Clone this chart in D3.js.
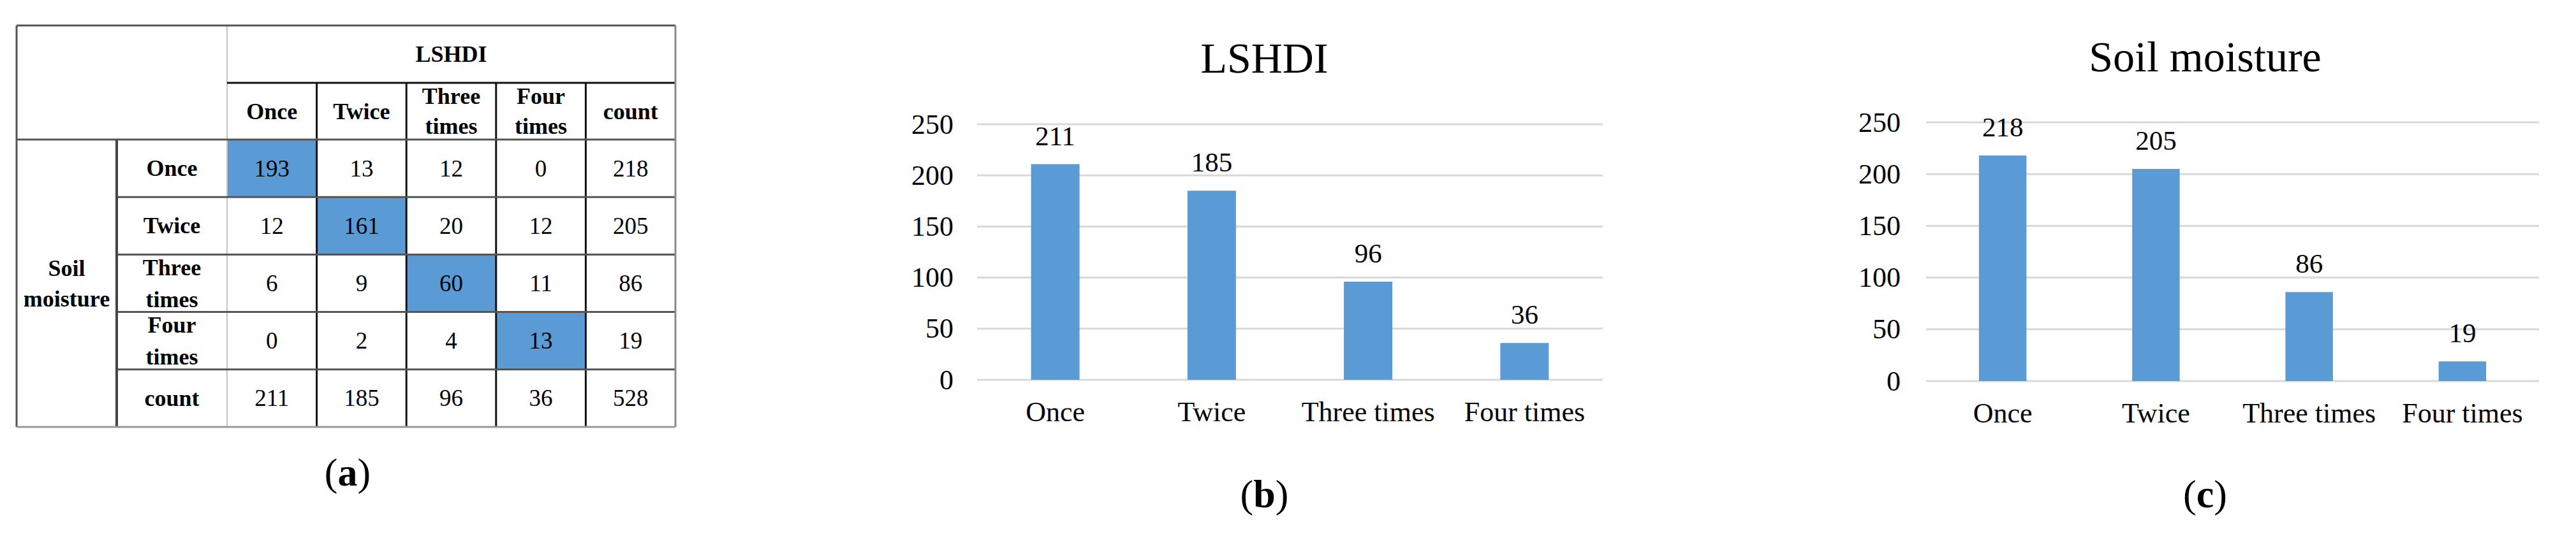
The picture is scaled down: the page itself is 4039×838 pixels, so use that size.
<!DOCTYPE html>
<html>
<head>
<meta charset="utf-8">
<script src="https://cdn.jsdelivr.net/npm/d3@7"></script>
<style>
  html, body { margin: 0; padding: 0; background: #fff; }
  svg { display: block; }
  text { font-family: "Liberation Serif", "Times New Roman", serif; fill: #000; }
</style>
</head>
<body>
<svg id="fig" width="4039" height="838"></svg>
<script>
// categories and values
const levels = ['Once', 'Twice', 'Three times', 'Four times']
const colHeaders = ['Once', 'Twice', 'Three times', 'Four times', 'count']
const rowHeaders = ['Once', 'Twice', 'Three times', 'Four times', 'count']
const crossTab = [
  [193, 13, 12, 0],
  [12, 161, 20, 12],
  [6, 9, 60, 11],
  [0, 2, 4, 13]
]
const rowTotals = [218, 205, 86, 19]
const colTotals = [211, 185, 96, 36]
const grandTotal = 528
const lshdiCounts = [211, 185, 96, 36]
const soilCounts = [218, 205, 86, 19]
const yTicks = [0, 50, 100, 150, 200, 250]

const blue = '#5b9bd5'
const svg = d3.select('#fig')

// ---------- (a) table ----------
const tbl = { left: 26, soilRight: 183, labelRight: 356, right: 1059, top: 40, lshdiBottom: 130, headBottom: 219, bottom: 670 }
const colX = d3.scaleBand().domain(d3.range(5)).range([tbl.labelRight, tbl.right])
const rowY = d3.scaleBand().domain(d3.range(5)).range([tbl.headBottom, tbl.bottom])

// full rows incl. totals
const body = crossTab.map((r, i) => r.concat([rowTotals[i]]))
body.push(colTotals.concat([grandTotal]))

const a = svg.append('g')

// highlighted diagonal
a.selectAll('rect.diag')
  .data(crossTab.map((r, i) => ({ i, v: r[i] })))
  .join('rect')
    .attr('x', d => colX(d.i))
    .attr('y', d => rowY(d.i))
    .attr('width', colX.bandwidth())
    .attr('height', rowY.bandwidth())
    .attr('fill', blue)

// cell numbers
body.forEach((row, i) => {
  a.selectAll(null)
    .data(row)
    .join('text')
      .attr('x', (d, j) => colX(j) + colX.bandwidth() / 2)
      .attr('y', rowY(i) + rowY.bandwidth() / 2)
      .attr('text-anchor', 'middle')
      .attr('dominant-baseline', 'central')
      .attr('font-size', 37)
      .text(d => d)
})

function multiline(sel, label, cx, cy, gap) {
  let words = label.split(' ')
  let t = sel.append('text')
    .attr('text-anchor', 'middle')
    .attr('dominant-baseline', 'central')
    .attr('font-size', 36)
    .attr('font-weight', 'bold')
  words.forEach((w, k) => {
    t.append('tspan')
      .attr('x', cx)
      .attr('y', cy + (k - (words.length - 1) / 2) * gap)
      .text(w)
  })
}

colHeaders.forEach((h, j) => multiline(a, h, colX(j) + colX.bandwidth() / 2, (tbl.lshdiBottom + tbl.headBottom) / 2, 47))
rowHeaders.forEach((h, i) => multiline(a, h, (tbl.soilRight + tbl.labelRight) / 2, rowY(i) + rowY.bandwidth() / 2, 50))
multiline(a, 'LSHDI', (tbl.labelRight + tbl.right) / 2, (tbl.top + tbl.lshdiBottom) / 2, 47)
multiline(a, 'Soil moisture', (tbl.left + tbl.soilRight) / 2, (tbl.headBottom + tbl.bottom) / 2, 48)

// grid lines
const line = (x1, y1, x2, y2, c, w) => a.append('line')
  .attr('x1', x1).attr('y1', y1).attr('x2', x2).attr('y2', y2)
  .attr('stroke', c).attr('stroke-width', w)

line(tbl.labelRight, tbl.top, tbl.labelRight, tbl.bottom, '#c4c4c4', 2)
d3.range(1, 5).forEach(j => line(colX(j), tbl.lshdiBottom, colX(j), tbl.bottom, '#111', 3))
d3.range(1, 5).forEach(i => line(tbl.soilRight, rowY(i), tbl.right, rowY(i), '#555', 3))
line(tbl.labelRight, tbl.lshdiBottom, tbl.right, tbl.lshdiBottom, '#111', 3)
line(tbl.left, tbl.headBottom, tbl.right, tbl.headBottom, '#555', 3)
line(tbl.soilRight, tbl.headBottom, tbl.soilRight, tbl.bottom, '#444', 4)
line(tbl.left, tbl.top, tbl.right, tbl.top, '#555', 3)
line(tbl.left, tbl.top, tbl.left, tbl.bottom, '#555', 3)
line(tbl.right, tbl.top, tbl.right, tbl.bottom, '#888', 3)
line(tbl.left, tbl.bottom, tbl.right, tbl.bottom, '#999', 3)

function panelLabel(letter, cx, baseline) {
  let t = svg.append('text')
    .attr('x', cx).attr('y', baseline)
    .attr('text-anchor', 'middle')
    .attr('font-size', 62)
  t.append('tspan').text('(')
  t.append('tspan').attr('font-weight', 'bold').text(letter)
  t.append('tspan').text(')')
}
panelLabel('a', 545, 762)

// ---------- (b), (c) bar charts ----------
function barChart(values, title, letter, lay) {
  let g = svg.append('g')
  let x = d3.scaleBand().domain(levels).range([lay.x0, lay.x1]).paddingInner(0.69).paddingOuter(0.345)
  let y = d3.scaleLinear().domain([0, 250]).range([lay.y0, lay.y1])

  g.selectAll('line.grid')
    .data(yTicks)
    .join('line')
      .attr('x1', lay.x0).attr('x2', lay.x1)
      .attr('y1', d => y(d)).attr('y2', d => y(d))
      .attr('stroke', '#d9d9d9').attr('stroke-width', 3)

  let yAxis = g.append('g')
    .attr('transform', `translate(${lay.x0},0)`)
    .call(d3.axisLeft(y).tickValues(yTicks).tickSize(0).tickPadding(lay.x0 - lay.yLabelRight))
  yAxis.select('.domain').remove()
  yAxis.selectAll('text').attr('font-size', 44).attr('font-family', '"Liberation Serif", serif')

  let xAxis = g.append('g')
    .attr('transform', `translate(0,${lay.y0})`)
    .call(d3.axisBottom(x).tickSize(0).tickPadding(lay.xLabelPad))
  xAxis.select('.domain').remove()
  xAxis.selectAll('text').attr('font-size', 44).attr('font-family', '"Liberation Serif", serif')

  g.selectAll('rect.bar')
    .data(values)
    .join('rect')
      .attr('x', (d, i) => x(levels[i]))
      .attr('y', d => y(d))
      .attr('width', x.bandwidth())
      .attr('height', d => lay.y0 - y(d))
      .attr('fill', blue)

  g.selectAll('text.val')
    .data(values)
    .join('text')
      .attr('x', (d, i) => x(levels[i]) + x.bandwidth() / 2)
      .attr('y', d => y(d) - 30)
      .attr('text-anchor', 'middle')
      .attr('font-size', 43)
      .text(d => d)

  g.append('text')
    .attr('x', (lay.x0 + lay.x1) / 2 - lay.titleShift)
    .attr('y', lay.titleY)
    .attr('text-anchor', 'middle')
    .attr('font-size', 68)
    .text(title)

  panelLabel(letter, (lay.x0 + lay.x1) / 2 - lay.titleShift, 796)
}

barChart(lshdiCounts, 'LSHDI', 'b',
  { x0: 1532, x1: 2513, y0: 596, y1: 195, yLabelRight: 1495, xLabelPad: 34, titleY: 114, titleShift: 40 })
barChart(soilCounts, 'Soil moisture', 'c',
  { x0: 3020, x1: 3981, y0: 598, y1: 192, yLabelRight: 2980, xLabelPad: 34, titleY: 112, titleShift: 43 })
</script>
</body>
</html>
